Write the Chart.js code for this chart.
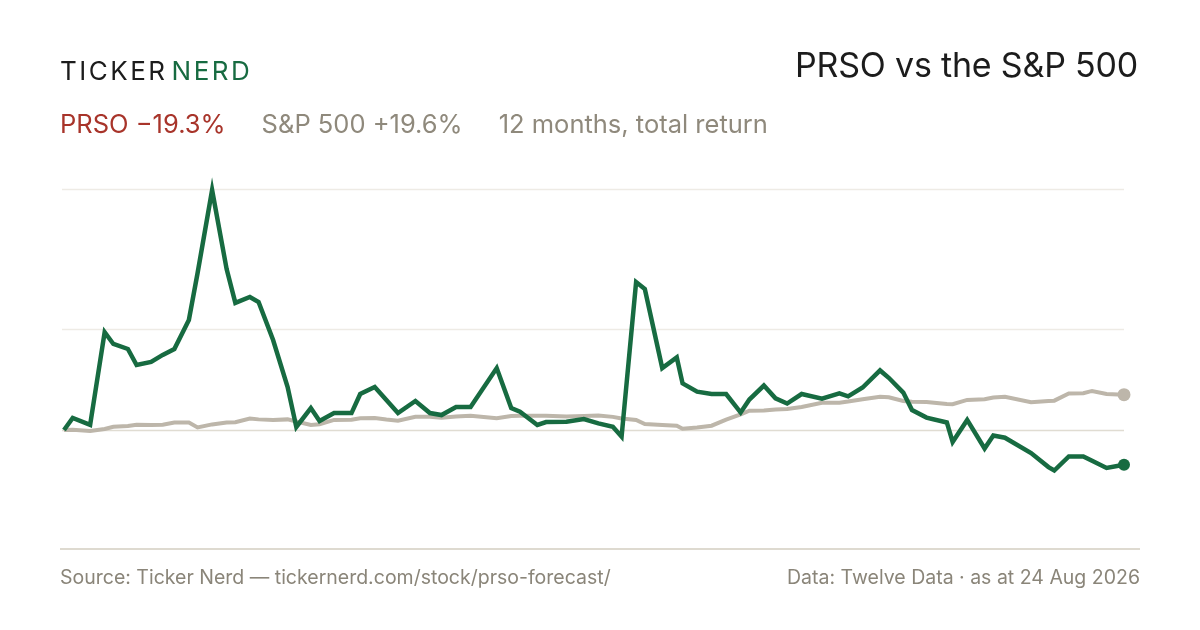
<!DOCTYPE html>
<html>
<head>
<meta charset="utf-8">
<script src="https://cdn.jsdelivr.net/npm/chart.js@4.4.1/dist/chart.umd.min.js"></script>
<style>
  html, body { margin: 0; padding: 0; background: #ffffff; }
  body { width: 1200px; height: 630px; position: relative; overflow: hidden; font-family: Inter, "Noto Sans", sans-serif; }
  #chartWrap { position: absolute; left: 0; top: 0; width: 1200px; height: 630px; }
  .logo { position: absolute; left: 60px; top: 55px; font-size: 26px; letter-spacing: 2.5px; color: #1c1c1c; font-weight: 400; }
  .logo .nerd { color: #176b41; margin-left: 4px; }
  .title { position: absolute; right: 62px; top: 44px; font-size: 34px; color: #1c1c1c; letter-spacing: -0.2px; }
  .legend { position: absolute; left: 60px; top: 108px; font-size: 25.5px; color: #8f897c; white-space: nowrap; }
  .legend span { margin-right: 36px; }
  .legend .prso { color: #a8342a; }
  .rule { position: absolute; left: 60px; top: 548px; width: 1080px; height: 2px; background: #dedad0; }
  .foot { position: absolute; top: 565px; font-size: 19.5px; color: #8a8579; white-space: nowrap; }
  .foot.left { left: 60px; }
  .foot.right { right: 60px; }
</style>
</head>
<body>
<div id="chartWrap"><canvas id="perfChart" width="1200" height="630"></canvas></div>
<div class="logo">TICKER<span class="nerd">NERD</span></div>
<div class="title">PRSO vs the S&amp;P 500</div>
<div class="legend"><span class="prso">PRSO −19.3%</span><span>S&amp;P 500 +19.6%</span><span>12 months, total return</span></div>
<div class="rule"></div>
<div class="foot left">Source: Ticker Nerd — tickernerd.com/stock/prso-forecast/</div>
<div class="foot right">Data: Twelve Data · as at 24 Aug 2026</div>

<script>
// days since start of the 12-month window
const days = [0, 3, 9, 14, 17, 22, 25, 30, 34, 38, 43, 46, 51, 56, 59, 64, 67, 72, 77, 80,
  85, 88, 93, 99, 102, 107, 111, 115, 121, 126, 130, 135, 140, 149, 154, 157, 163, 166, 173, 179,
  184, 189, 192, 197, 200, 206, 211, 213, 218, 223, 228, 233, 236, 241, 245, 249, 254, 261, 267, 270,
  275, 281, 284, 289, 292, 297, 304, 306, 311, 317, 320, 324, 333, 339, 341, 346, 351, 354, 359, 365];

// total return, %
const prsoReturn = [0, 6.7, 2.8, 54.4, 47.8, 45.0, 36.1, 37.8, 41.7, 45.0, 61.1, 87.2, 133.3, 89.4, 70.6, 73.9, 71.1, 50.0, 23.9, 1.7,
  12.2, 5.0, 9.4, 9.4, 20.0, 23.9, 16.7, 9.4, 16.1, 9.4, 8.3, 12.8, 12.8, 34.4, 12.2, 10.2, 2.8, 4.4, 4.6, 6.1,
  3.7, 1.8, -3.7, 82.2, 78.3, 34.4, 40.3, 25.9, 21.3, 20.0, 20.0, 9.7, 16.9, 24.7, 17.6, 14.7, 20.0, 17.4, 20.3, 18.7,
  23.6, 33.1, 29.0, 20.8, 11.1, 6.9, 4.2, -6.7, 5.6, -10.3, -3.1, -4.3, -12.8, -20.6, -22.5, -14.7, -14.7, -17.1, -21.1, -19.3];

const spxReturn = [0, 0.2, -0.6, 0.6, 1.8, 2.2, 2.9, 2.8, 2.9, 4.1, 4.1, 1.4, 3.1, 4.1, 4.3, 6.4, 5.9, 5.6, 5.9, 4.7,
  2.8, 3.2, 5.6, 5.7, 6.5, 6.7, 5.8, 5.2, 7.4, 7.4, 6.8, 7.5, 7.9, 6.5, 7.8, 7.9, 7.9, 7.9, 7.5, 7.8,
  8.1, 7.3, 6.4, 5.6, 3.3, 2.8, 2.4, 0.7, 1.4, 2.4, 5.8, 8.7, 10.7, 10.8, 11.4, 11.7, 12.8, 15.1, 15.2, 15.8,
  17.1, 18.5, 18.2, 16.1, 15.7, 15.6, 14.4, 14.3, 16.7, 17.1, 18.1, 18.5, 15.4, 16.1, 16.3, 20.3, 20.4, 21.7, 20.0, 19.6];

const gridValues = [56.1, 133.9];
const baseValue = 0;

const greenLine = '#176b41';
const greyLine = '#bdb6aa';

const lastIdx = days.length - 1;

const gridPlugin = {
  id: 'gridLines',
  beforeDatasetsDraw(chart) {
    const ctx = chart.ctx;
    const area = chart.chartArea;
    const y = chart.scales.y;
    ctx.save();
    ctx.lineWidth = 1.5;
    ctx.strokeStyle = '#eeebe5';
    gridValues.forEach(v => {
      const py = Math.round(y.getPixelForValue(v)) + 0.5;
      ctx.beginPath();
      ctx.moveTo(area.left - 2, py);
      ctx.lineTo(area.right, py);
      ctx.stroke();
    });
    ctx.strokeStyle = '#e0dcd2';
    const pz = Math.round(y.getPixelForValue(baseValue)) + 0.5;
    ctx.beginPath();
    ctx.moveTo(area.left - 2, pz);
    ctx.lineTo(area.right, pz);
    ctx.stroke();
    ctx.restore();
  }
};

function toPoints(values) {
  return days.map((d, i) => ({ x: d, y: values[i] }));
}

new Chart(document.getElementById('perfChart'), {
  type: 'line',
  data: {
    datasets: [
      {
        label: 'PRSO',
        data: toPoints(prsoReturn),
        borderColor: greenLine,
        backgroundColor: greenLine,
        borderWidth: 4.5,
        tension: 0,
        borderJoinStyle: 'miter',
        pointRadius: ctx => ctx.dataIndex === lastIdx ? 6 : 0,
        pointBorderWidth: 0,
        clip: false
      },
      {
        label: 'S&P 500',
        data: toPoints(spxReturn),
        borderColor: greyLine,
        backgroundColor: greyLine,
        borderWidth: 4,
        tension: 0,
        pointRadius: ctx => ctx.dataIndex === lastIdx ? 6.5 : 0,
        pointBorderWidth: 0,
        clip: false
      }
    ]
  },
  options: {
    responsive: false,
    animation: false,
    layout: {
      padding: { left: 64, right: 76, top: 170, bottom: 110 }
    },
    plugins: {
      legend: { display: false },
      tooltip: { enabled: false }
    },
    scales: {
      x: { type: 'linear', min: 0, max: 365, display: false },
      y: { type: 'linear', min: -50, max: 144.44, display: false }
    }
  },
  plugins: [gridPlugin]
});
</script>
</body>
</html>
